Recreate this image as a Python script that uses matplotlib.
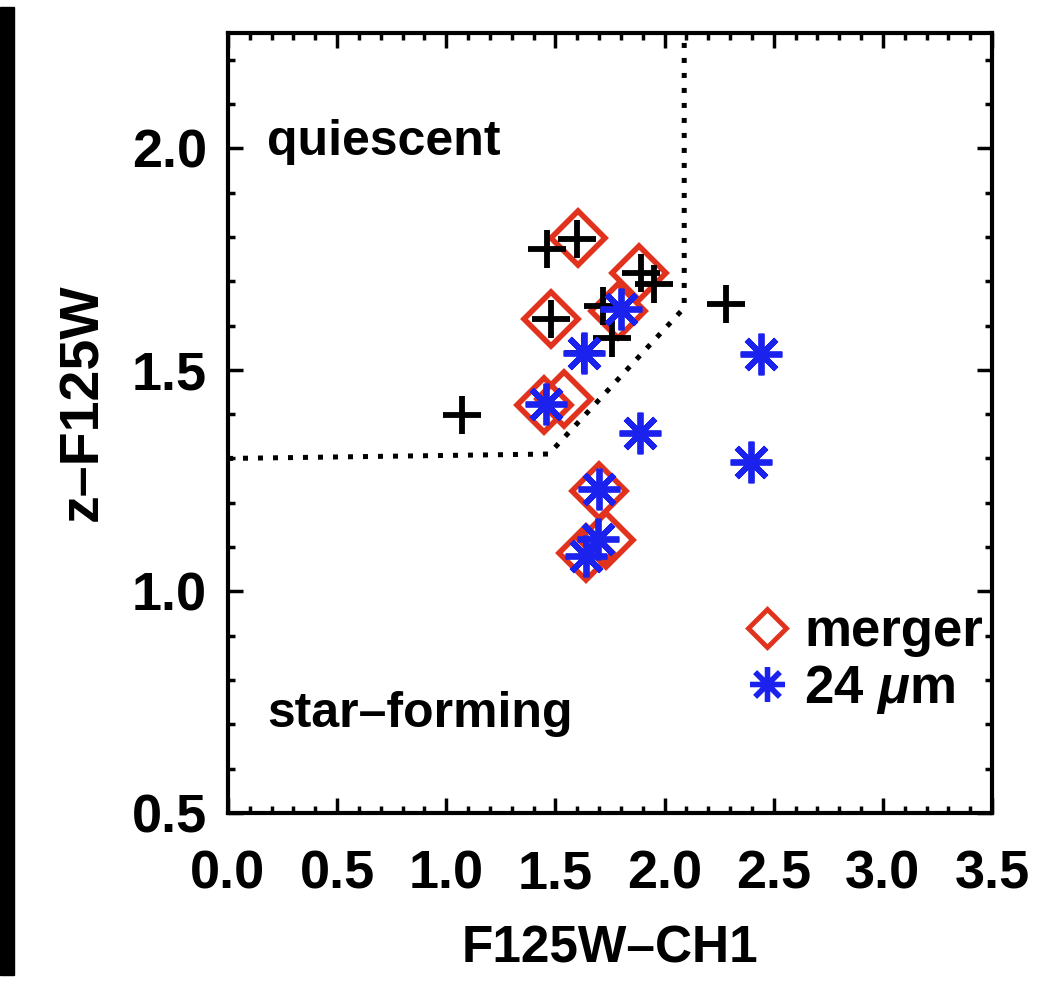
import numpy as np
import matplotlib
matplotlib.use("Agg")
import matplotlib.pyplot as plt
from matplotlib.lines import Line2D
from matplotlib.patches import Rectangle

# colour-colour data: F125W-CH1 (x) vs z-F125W (y)
all_x = [1.46, 1.60, 1.48, 1.89, 1.95, 1.72, 1.76, 1.63, 1.07, 2.28]
all_y = [1.773, 1.795, 1.615, 1.718, 1.694, 1.644, 1.572, 1.538, 1.399, 1.649]

merger_x = [1.605, 1.482, 1.883, 1.788, 1.446, 1.537, 1.701, 1.733, 1.642]
merger_y = [1.797, 1.615, 1.718, 1.633, 1.421, 1.435, 1.227, 1.115, 1.086]

mips_x = [1.801, 1.632, 1.459, 1.888, 2.440, 2.394, 1.701, 1.696, 1.642]
mips_y = [1.637, 1.538, 1.423, 1.358, 1.536, 1.291, 1.232, 1.119, 1.079]

# quiescent / star-forming selection boundary
cut_x = [0.0, 1.47, 2.09, 2.09]
cut_y = [1.30, 1.31, 1.64, 2.26]

RED = "#e0321c"
BLUE = "#1c22ee"
FONT = "Liberation Sans"

plt.rcParams["font.family"] = FONT
plt.rcParams["font.weight"] = "bold"
plt.rcParams["mathtext.fontset"] = "custom"
plt.rcParams["mathtext.rm"] = "Liberation Sans:bold"
plt.rcParams["mathtext.it"] = "Liberation Sans:italic:bold"

fig = plt.figure(figsize=(10.63, 9.99), dpi=100)
ax = fig.add_axes([228 / 1063, 1 - 813 / 999, 764 / 1063, 780 / 999])

# black strip down the left edge
fig.patches.append(Rectangle((0, 1 - 975 / 999), 14 / 1063, 968 / 999,
                             transform=fig.transFigure, color="black", zorder=0))

ax.plot(cut_x, cut_y, color="black", lw=3.6, linestyle=(0, (1, 2)),
        dash_capstyle="butt", zorder=1)

star = (8, 2, 0)
ax.plot(merger_x, merger_y, linestyle="none", marker="D", ms=27, mfc="none",
        mec=RED, mew=4, zorder=2)
ax.plot(all_x, all_y, linestyle="none", marker="+", ms=27, mec="black",
        mew=4.2, zorder=3)
ax.plot(mips_x, mips_y, linestyle="none", marker=star, ms=30, mec=BLUE,
        mew=4.2, zorder=4)

ax.text(0.18, 1.985, "quiescent", fontsize=36, fontweight="bold", va="baseline")
ax.text(0.18, 0.694, "star\u2013forming", fontsize=36, fontweight="bold", va="baseline")

handles = [
    Line2D([], [], linestyle="none", marker="D", ms=19, mfc="none", mec=RED, mew=3.5),
    Line2D([], [], linestyle="none", marker=star, ms=25, mec=BLUE, mew=3.8),
]
ax.legend(handles, ["merger", r"24 $\mu$m"], loc="lower right",
          bbox_to_anchor=(0.988, 0.125), frameon=False, fontsize=38,
          handlelength=0.8, handletextpad=0.3, labelspacing=0.1,
          borderpad=0, borderaxespad=0)

ax.set_xlim(0, 3.5)
ax.set_ylim(0.5, 2.26)
ax.set_xticks(np.arange(0, 3.51, 0.5))
ax.set_yticks([0.5, 1.0, 1.5, 2.0])
ax.set_xticks(np.arange(0, 3.51, 0.1), minor=True)
ax.set_yticks(np.arange(0.5, 2.26, 0.1), minor=True)
ax.xaxis.set_major_formatter(matplotlib.ticker.FormatStrFormatter("%.1f"))
ax.yaxis.set_major_formatter(matplotlib.ticker.FormatStrFormatter("%.1f"))

ax.tick_params(which="both", direction="in", top=True, right=True, width=2.5,
               labelsize=39)
ax.tick_params(which="major", length=11)
ax.tick_params(which="minor", length=5)
ax.tick_params(axis="x", pad=26)
ax.tick_params(axis="y", pad=15)
for sp in ax.spines.values():
    sp.set_linewidth(3)

ax.set_xlabel("F125W\u2013CH1", fontsize=37, fontweight="bold", labelpad=18)
ax.set_ylabel("z\u2013F125W", fontsize=40, fontweight="bold")
ax.yaxis.set_label_coords(-0.155, 0.527)

fig.savefig("out.png", dpi=100)
